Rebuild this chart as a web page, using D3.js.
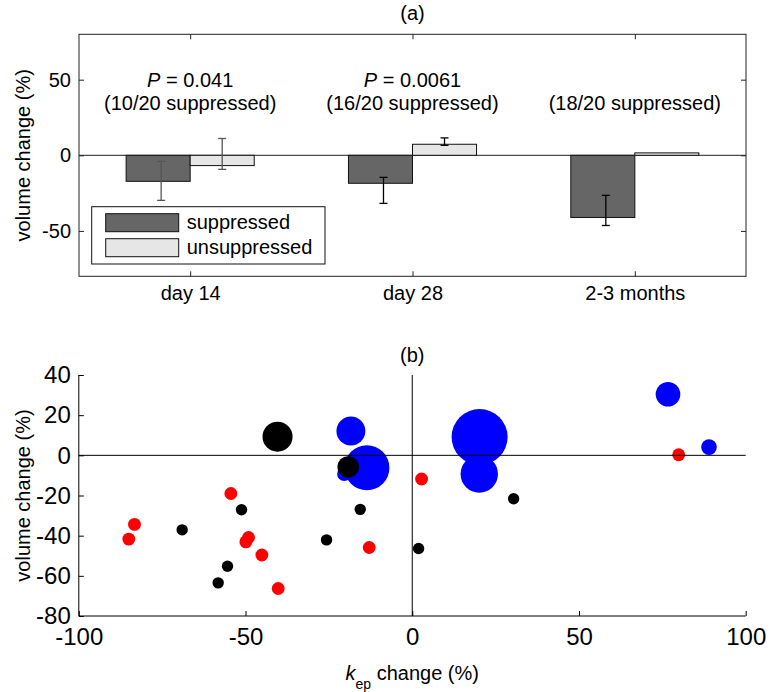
<!DOCTYPE html>
<html><head><meta charset="utf-8">
<script src="https://cdn.jsdelivr.net/npm/d3@7"></script>
<style>body{margin:0;background:#fff}svg{display:block;font-family:"Liberation Sans",Arial,sans-serif}</style>
</head><body><svg id="c" width="771" height="692"></svg>
<script>
// ---------- data: panel (a) ----------
const categories = ["day 14", "day 28", "2-3 months"];
const suppressedMean = [-17.2, -18.5, -41.1];
const suppressedErrLow = [-29.8, -31.8, -46.4];
const suppressedErrHigh = [-4.0, -14.6, -26.5];
const unsuppressedMean = [-6.8, 7.3, 1.6];
const unsuppressedErrLow = [-9.3, 6.6, null];
const unsuppressedErrHigh = [11.1, 11.5, null];
const pValues = ["0.041", "0.0061", null];
const suppressedCounts = ["10/20", "16/20", "18/20"];
const topYTicks = [-50, 0, 50];
const legendLabels = ["suppressed", "unsuppressed"];

// ---------- data: panel (b) ----------
const blueX = [-18.4, -20.4, -13.6, 20.2, 20.1, 76.7, 89.0];
const blueY = [12.1, -9.3, -6.2, 9.1, -9.3, 30.4, 4.1];
const blueSize = [5.8, 1.4, 14.1, 21.8, 9.7, 4.2, 1.7];
const redX = [-85.0, -83.3, -54.4, -49.1, -49.9, -45.1, -40.2, -12.9, 2.8, 79.9];
const redY = [-41.7, -34.4, -19.0, -40.9, -43.1, -49.6, -66.3, -45.9, -11.8, 0.3];
const redSize = [1.15, 1.15, 1.15, 1.15, 1.15, 1.15, 1.15, 1.15, 1.15, 1.15];
const blackX = [-69.0, -51.2, -55.4, -58.2, -25.7, -15.6, 1.9, 30.4, -40.4, -19.2];
const blackY = [-37.1, -27.1, -55.2, -63.5, -42.1, -26.9, -46.4, -21.6, 9.3, -5.8];
const blackSize = [0.9, 0.9, 0.9, 0.9, 0.9, 0.9, 0.9, 0.9, 6.25, 3.24];
const bottomXTicks = [-100, -50, 0, 50, 100];
const bottomYTicks = [-80, -60, -40, -20, 0, 20, 40];

const svg = d3.select("#c");
const fmt = d => String(d); // plain hyphen-minus, as in the reference

// =============== panel (a) ===============
const A = {l: 79, r: 746, t: 34.3, b: 276.3};
const xA = d3.scaleLinear().domain([0.5, 3.5]).range([A.l, A.r]);
const yA = d3.scaleLinear().domain([-80, 80]).range([A.b, A.t]);
const barW = 0.288;
const gA = svg.append("g");

svg.append("text").attr("x", xA(2)).attr("y", 20).attr("text-anchor", "middle")
  .attr("font-size", 20).text("(a)");

gA.append("line").attr("x1", A.l).attr("x2", A.r).attr("y1", yA(0)).attr("y2", yA(0))
  .attr("stroke", "#222").attr("stroke-width", 1);

const barData = categories.map((c, i) => ({i: i + 1, s: suppressedMean[i], u: unsuppressedMean[i]}));
gA.selectAll("rect.s").data(barData).join("rect").attr("class", "s")
  .attr("x", d => xA(d.i - barW)).attr("width", d => xA(d.i) - xA(d.i - barW))
  .attr("y", d => yA(Math.max(0, d.s))).attr("height", d => Math.abs(yA(d.s) - yA(0)))
  .attr("fill", "#666666").attr("stroke", "#111").attr("stroke-width", 1);
gA.selectAll("rect.u").data(barData).join("rect").attr("class", "u")
  .attr("x", d => xA(d.i)).attr("width", d => xA(d.i + barW) - xA(d.i))
  .attr("y", d => yA(Math.max(0, d.u))).attr("height", d => Math.abs(yA(d.u) - yA(0)))
  .attr("fill", "#e6e6e6").attr("stroke", "#111").attr("stroke-width", 1);

const errs = [];
categories.forEach((c, i) => {
  errs.push({x: xA(i + 1 - barW / 2) + 3, lo: suppressedErrLow[i], hi: suppressedErrHigh[i], col: i === 0 ? "#555" : "#000"});
  if (unsuppressedErrLow[i] !== null)
    errs.push({x: xA(i + 1 + barW / 2), lo: unsuppressedErrLow[i], hi: unsuppressedErrHigh[i], col: i === 0 ? "#555" : "#000"});
});
const eg = gA.selectAll("g.err").data(errs).join("g").attr("class", "err")
  .attr("stroke", d => d.col).attr("stroke-width", 1.3);
eg.append("line").attr("x1", d => d.x).attr("x2", d => d.x).attr("y1", d => yA(d.lo)).attr("y2", d => yA(d.hi));
eg.append("line").attr("x1", d => d.x - 4).attr("x2", d => d.x + 4).attr("y1", d => yA(d.lo)).attr("y2", d => yA(d.lo));
eg.append("line").attr("x1", d => d.x - 4).attr("x2", d => d.x + 4).attr("y1", d => yA(d.hi)).attr("y2", d => yA(d.hi));

const axL = gA.append("g").attr("transform", `translate(${A.l},0)`)
  .call(d3.axisLeft(yA).tickValues(topYTicks).tickFormat(fmt).tickSize(-5).tickSizeOuter(0).tickPadding(8));
const axR = gA.append("g").attr("transform", `translate(${A.r},0)`)
  .call(d3.axisRight(yA).tickValues(topYTicks).tickSize(-5).tickSizeOuter(0).tickFormat(""));
const axB = gA.append("g").attr("transform", `translate(0,${A.b})`)
  .call(d3.axisBottom(xA).tickValues([1, 2, 3]).tickFormat(d => categories[d - 1]).tickSize(-5).tickSizeOuter(0).tickPadding(10));
const axT = gA.append("g").attr("transform", `translate(0,${A.t})`)
  .call(d3.axisTop(xA).tickValues([1, 2, 3]).tickSize(-5).tickSizeOuter(0).tickFormat(""));
[axL, axR, axB, axT].forEach(a => {
  a.select(".domain").remove();
  a.selectAll("line").attr("stroke", "#222");
  a.selectAll("text").attr("font-size", 20).attr("fill", "#000").attr("font-family", "Liberation Sans, Arial, sans-serif");
});
gA.append("rect").attr("x", A.l).attr("y", A.t).attr("width", A.r - A.l).attr("height", A.b - A.t)
  .attr("fill", "none").attr("stroke", "#222").attr("stroke-width", 1);

categories.forEach((c, i) => {
  if (pValues[i] !== null) {
    const t = gA.append("text").attr("x", xA(i + 1)).attr("y", 87).attr("text-anchor", "middle").attr("font-size", 20);
    t.append("tspan").attr("font-style", "italic").text("P");
    t.append("tspan").text(" = " + pValues[i]);
  }
  gA.append("text").attr("x", xA(i + 1)).attr("y", 110).attr("text-anchor", "middle").attr("font-size", 20)
    .text("(" + suppressedCounts[i] + " suppressed)");
});

svg.append("text").attr("transform", `translate(30,${yA(0)}) rotate(-90)`).attr("text-anchor", "middle")
  .attr("font-size", 20).text("volume change (%)");

const lg = gA.append("g");
lg.append("rect").attr("x", 91.7).attr("y", 206.7).attr("width", 233.3).attr("height", 57.3)
  .attr("fill", "#fff").attr("stroke", "#111").attr("stroke-width", 1);
const legFill = ["#666666", "#e6e6e6"];
legendLabels.forEach((l, k) => {
  const yy = 213.7 + k * 25;
  lg.append("rect").attr("x", 105.7).attr("y", yy).attr("width", 73).attr("height", 18)
    .attr("fill", legFill[k]).attr("stroke", "#111").attr("stroke-width", 1);
  lg.append("text").attr("x", 186.7).attr("y", yy + 15).attr("font-size", 20).text(l);
});

// =============== panel (b) ===============
const B = {l: 78.8, r: 745.7, t: 375, b: 616};
const xB = d3.scaleLinear().domain([-100, 100]).range([B.l, B.r]);
const yB = d3.scaleLinear().domain([-80, 40]).range([B.b, B.t]);
const rB = d3.scaleSqrt().domain([0, 1]).range([0, 6]);
const gB = svg.append("g");

svg.append("text").attr("x", xB(0)).attr("y", 362).attr("text-anchor", "middle")
  .attr("font-size", 20).text("(b)");

const mk = (xs, ys, ss, col) => xs.map((x, i) => ({x, y: ys[i], s: ss[i], col}));
const pts = [...mk(blueX, blueY, blueSize, "#0000ff"), ...mk(redX, redY, redSize, "#ff0000"), ...mk(blackX, blackY, blackSize, "#000000")];
gB.selectAll("circle").data(pts).join("circle")
  .attr("cx", d => xB(d.x)).attr("cy", d => yB(d.y)).attr("r", d => rB(d.s)).attr("fill", d => d.col);

gB.append("line").attr("x1", B.l).attr("x2", B.r).attr("y1", yB(0)).attr("y2", yB(0)).attr("stroke", "#000").attr("stroke-width", 1);
gB.append("line").attr("x1", xB(0)).attr("x2", xB(0)).attr("y1", B.t).attr("y2", B.b).attr("stroke", "#000").attr("stroke-width", 1);

const bl = gB.append("g").attr("transform", `translate(${B.l},0)`)
  .call(d3.axisLeft(yB).tickValues(bottomYTicks).tickFormat(fmt).tickSize(-5).tickSizeOuter(0).tickPadding(8));
const bb = gB.append("g").attr("transform", `translate(0,${B.b})`)
  .call(d3.axisBottom(xB).tickValues(bottomXTicks).tickFormat(fmt).tickSize(-5).tickSizeOuter(0).tickPadding(12));
[bl, bb].forEach(a => {
  a.selectAll("line").attr("stroke", "#000");
  a.selectAll("text").attr("font-size", 24).attr("fill", "#000").attr("font-family", "Liberation Sans, Arial, sans-serif");
});
bl.select(".domain").attr("stroke", "#000").attr("d", `M0,${B.t}V${B.b}`);
bb.select(".domain").attr("stroke", "#000").attr("d", `M${B.l},0H${B.r}`);

svg.append("text").attr("transform", `translate(30,${(B.t + B.b) / 2}) rotate(-90)`).attr("text-anchor", "middle")
  .attr("font-size", 20).text("volume change (%)");

const xl = svg.append("text").attr("x", xB(0)).attr("y", 680).attr("text-anchor", "middle").attr("font-size", 20);
xl.append("tspan").attr("font-style", "italic").text("k");
xl.append("tspan").attr("font-size", 14).attr("dy", 9).text("ep");
xl.append("tspan").attr("dy", -9).text(" change (%)");
</script></body></html>
